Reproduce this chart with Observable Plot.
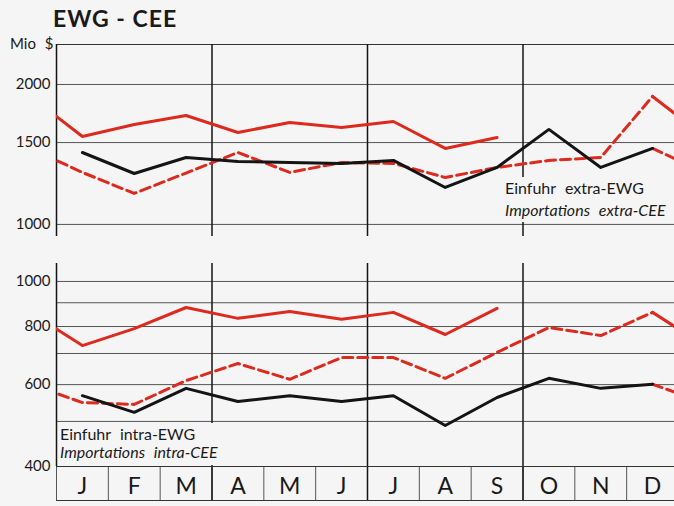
<!DOCTYPE html>
<html><head><meta charset="utf-8">
<script src="https://cdn.jsdelivr.net/npm/d3@7"></script>
<script src="https://cdn.jsdelivr.net/npm/@observablehq/plot@0.6"></script>
<style>
body{margin:0;background:#f5f5f5;font-family:Lato,"Open Sans",sans-serif;color:#1a1a1a}
#wrap{position:relative;width:674px;height:506px;overflow:hidden;background:#f5f5f5}
.abs{position:absolute;white-space:nowrap}
#title{left:53px;top:7px;font-size:23px;line-height:23px;font-weight:700;letter-spacing:1px}
#unit{left:10px;top:36px;font-size:15px;line-height:15px;word-spacing:5px}
.note{font-size:16px;background:#f5f5f5;word-spacing:5px}
#noteTop{left:503px;top:177px;line-height:22px;padding:0 2px;height:45px}
#noteBot{left:58px;top:423px;line-height:18px;padding:2px 4px 0 2px;height:40px}
.svgbox{position:absolute;left:0}
</style></head><body><div id="wrap">
<div id="top" class="svgbox" style="top:0"></div>
<div id="bot" class="svgbox" style="top:250px"></div>
<div class="abs" id="title">EWG - CEE</div>
<div class="abs" id="unit">Mio $</div>
<div class="abs note" id="noteTop">Einfuhr extra-EWG<br><i>Importations extra-CEE</i></div>
<div class="abs note" id="noteBot">Einfuhr intra-EWG<br><i>Importations intra-CEE</i></div>
</div>
<script>
const months = ["J","F","M","A","M","J","J","A","S","O","N","D"];
// Einfuhr extra-EWG (Mio $): first year (black), second year (red dashed), third year (red solid)
const extraA = [1428,1287,1393,1366,1359,1353,1373,1201,1326,1601,1326,1457];
const extraB = [1294,1166,1290,1428,1294,1359,1353,1262,1326,1373,1393,1885];
const extraC = [1546,1640,1715,1577,1657,1617,1665,1457,1538];
// Einfuhr intra-EWG (Mio $)
const intraA = [568,523,589,552,568,552,568,490,563,619,589,601];
const intraB = [549,544,612,666,616,686,686,619,704,796,765,858];
const intraC = [728,792,879,833,862,829,858,769,875];
const topTicks = [1000,1500,2000];
const topGrid = [1000,1500,2000];
const botTicks = [400,600,800,1000];
const botGrid = [400,500,600,700,800,900,1000];

const RED = "#dd2a1f", BLACK = "#141414", GRID = "#555";
const quarters = [2.5,5.5,8.5];
const bounds = d3.range(13).map(i => i - 0.5);
const xDomain = [-0.5, 11.5 - 4/51.83];

function series(a, b, c) {
  const A = a.map((v,i)=>({m:i, v, k:"A"}));
  const B = [{m:-1, v:a[11], k:"B"}, ...b.map((v,i)=>({m:i, v, k:"B"})),
             {m:11, v:a[11], k:"B2"}, {m:12, v:b[0], k:"B2"}];
  const C = [{m:-1, v:b[11], k:"C"}, ...c.map((v,i)=>({m:i, v, k:"C"})),
             {m:11, v:b[11], k:"C2"}, {m:12, v:c[0], k:"C2"}];
  return {A, B, C};
}

function panel({height, marginTop, marginBottom, domain, ticks, grid, a, b, c, monthRow}) {
  const s = series(a, b, c);
  const marks = [
    Plot.ruleY(grid, {stroke: GRID, strokeWidth: 1}),
    Plot.ruleX(quarters, {stroke: BLACK, strokeWidth: 1.5}),
    Plot.ruleX([-0.5], {stroke: BLACK, strokeWidth: 1.5}),
    Plot.line(s.B, {x:"m", y:"v", z:"k", stroke: RED, strokeWidth: 3, strokeDasharray: "10,5", clip: true}),
    Plot.line(s.A, {x:"m", y:"v", z:"k", stroke: BLACK, strokeWidth: 3, clip: true}),
    Plot.line(s.C, {x:"m", y:"v", z:"k", stroke: RED, strokeWidth: 3, clip: true}),
    Plot.axisY({ticks, tickSize: 0, tickPadding: 6, tickFormat: d => String(d), fontSize: 15, label: null})
  ];
  if (!monthRow) {
    marks.unshift(Plot.ruleY([domain[1]], {stroke: "#333", strokeWidth: 1}));
  } else {
    marks.push(
      Plot.axisX({ticks: bounds, tickSize: 34, tickFormat: () => "", stroke: GRID, label: null}),
      Plot.axisX({ticks: quarters, tickSize: 34, tickFormat: () => "", stroke: BLACK, strokeWidth: 1.5, label: null}),
      Plot.axisX({ticks: d3.range(12), tickSize: 0, tickPadding: 11, tickFormat: i => months[i], fontSize: 23, label: null}),
      Plot.ruleY([domain[0]], {stroke: "#333", strokeWidth: 1.2}),
      Plot.ruleY([domain[0]], {stroke: "#333", strokeWidth: 1, dy: 34})
    );
  }
  return Plot.plot({
    width: 674, height, marginLeft: 56, marginRight: 0, marginTop, marginBottom,
    x: {type: "linear", domain: xDomain, ...(monthRow ? {} : {axis: null})},
    y: {type: "log", domain},
    style: {background: "transparent", fontFamily: "Lato, 'Open Sans', sans-serif", fontSize: "15px", color: "#1a1a1a", overflow: "visible"},
    marks
  });
}

document.getElementById("top").append(panel({
  height: 240, marginTop: 44, marginBottom: 4, domain: [942, 2438],
  ticks: topTicks, grid: topGrid, a: extraA, b: extraB, c: extraC, monthRow: false
}));
document.getElementById("bot").append(panel({
  height: 256, marginTop: 13, marginBottom: 40, domain: [400, 1093],
  ticks: botTicks, grid: botGrid, a: intraA, b: intraB, c: intraC, monthRow: true
}));
</script>
</body></html>
